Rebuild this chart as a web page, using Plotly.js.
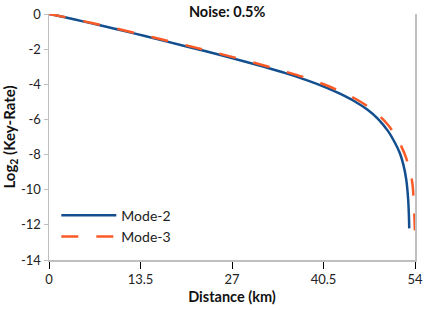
<!DOCTYPE html>
<html>
<head>
<meta charset="utf-8">
<script src="https://cdn.plot.ly/plotly-3.0.1.min.js"></script>
<style>html,body{margin:0;padding:0;background:#fff;}#chart{width:431px;height:310px;}</style>
</head>
<body>
<div id="chart"></div>
<script>
const mode2X = [0, 2, 5, 8, 11, 14, 17, 20, 23, 26, 29, 32, 35, 38, 41, 43, 45, 47, 48.5, 50, 51, 51.8, 52.3, 52.7, 53.0, 53.15];
const mode2Y = [0, -0.16, -0.42, -0.68, -0.96, -1.24, -1.53, -1.82, -2.11, -2.41, -2.72, -3.04, -3.38, -3.76, -4.2, -4.55, -4.95, -5.45, -5.95, -6.65, -7.3, -7.95, -8.6, -9.4, -10.6, -12.2];
const mode3X = [0, 2, 5, 8, 11, 14, 17, 20, 23, 26, 29, 32, 35, 38, 41, 43, 45, 47, 48.5, 50, 51, 52, 52.7, 53.2, 53.6, 53.85, 54];
const mode3Y = [0, -0.15, -0.4, -0.65, -0.92, -1.2, -1.48, -1.76, -2.05, -2.34, -2.64, -2.96, -3.29, -3.65, -4.07, -4.4, -4.78, -5.25, -5.7, -6.3, -6.85, -7.55, -8.2, -8.9, -9.6, -11.0, -12.5];
const xTicks = [0, 13.5, 27, 40.5, 54];
const yTicks = [0, -2, -4, -6, -8, -10, -12, -14];

const FONT = 'Lato, "Open Sans", sans-serif';
const traces = [
  {x: mode2X, y: mode2Y, name: 'Mode-2', mode: 'lines', line: {color: '#134f8e', width: 2.5, shape: 'spline'}},
  {x: mode3X, y: mode3Y, name: 'Mode-3', mode: 'lines', line: {color: '#fb5a27', width: 2.5, dash: '17px,18px', shape: 'spline'}}
];
const layout = {
  width: 431, height: 310,
  margin: {l: 49, r: 16, t: 14, b: 50},
  paper_bgcolor: '#fff', plot_bgcolor: '#fff',
  font: {family: FONT, size: 13, color: '#222'},
  showlegend: true,
  title: {text: '<b>Noise: 0.5%</b>', font: {family: FONT, size: 14.5, color: '#111'}, x: 0.527, xanchor: 'center', y: 0.962, yanchor: 'middle'},
  xaxis: {
    range: [0, 54], tickvals: xTicks, ticktext: xTicks.map(String),
    showgrid: false, zeroline: false, showline: true, linecolor: '#bfbfbf', linewidth: 1.5,
    ticks: 'outside', ticklen: 7, tickcolor: '#000', tickwidth: 1,
    tickfont: {family: FONT, size: 13, color: '#222'},
    title: {text: '<b>Distance (km)</b>', font: {family: FONT, size: 14.5, color: '#111'}, standoff: 6}
  },
  yaxis: {
    range: [-14, 0], tickvals: yTicks, ticktext: yTicks.map(String),
    showgrid: false, zeroline: false, showline: true, linecolor: '#bfbfbf', linewidth: 1.5, mirror: true,
    ticks: 'outside', ticklen: 4, tickcolor: '#bfbfbf', tickwidth: 1,
    tickfont: {family: FONT, size: 13, color: '#222'},
    title: {text: '<b>Log<sub>2</sub> (Key-Rate)</b>', font: {family: FONT, size: 15, color: '#111'}, standoff: 4}
  },
  legend: {x: 0.02, y: 0.245, xanchor: 'left', yanchor: 'top', bgcolor: 'rgba(0,0,0,0)', font: {family: FONT, size: 14, color: '#222'}, tracegroupgap: 0, itemwidth: 55}
};
Plotly.newPlot('chart', traces, layout, {displayModeBar: false, staticPlot: true});
</script>
</body>
</html>
